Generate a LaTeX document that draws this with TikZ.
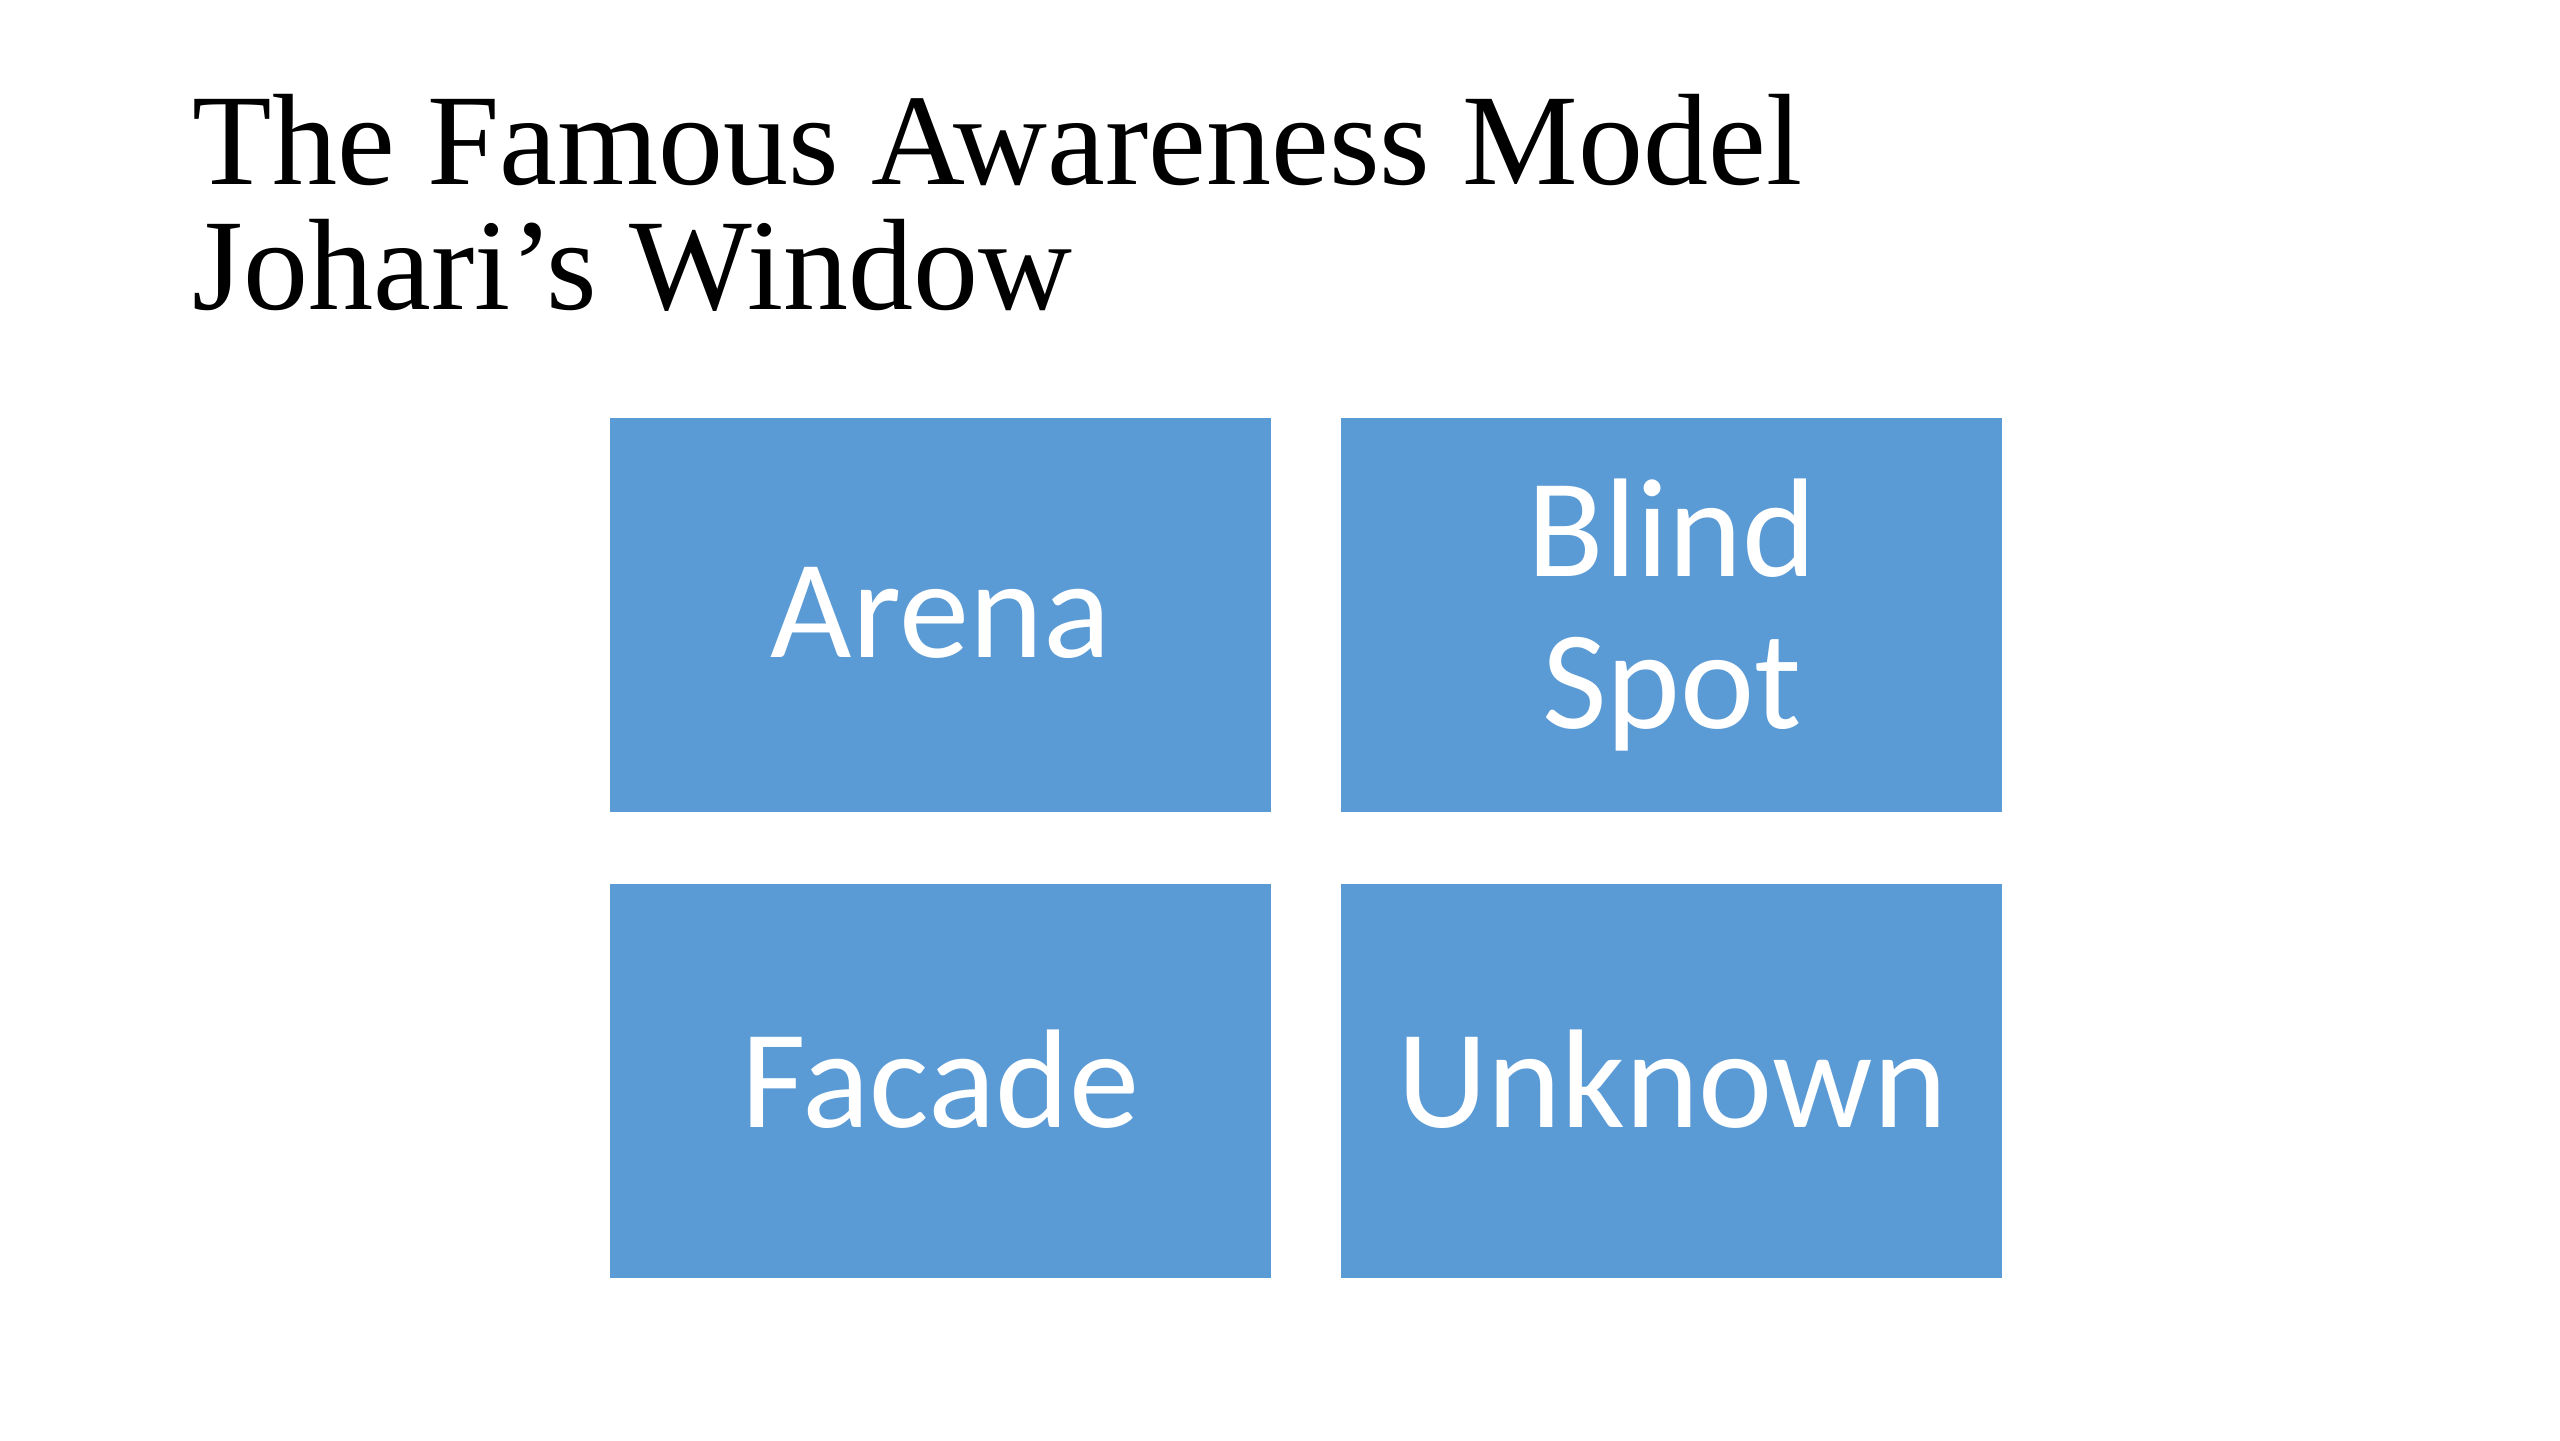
\documentclass[tikz,border=0pt]{standalone}
\usepackage{fontspec}
\setmainfont{Liberation Serif}
\newfontfamily\boxfont{Carlito}
\usepackage{tikz}
\usetikzlibrary{positioning}
\definecolor{paneblue}{RGB}{91, 155, 213}

\tikzset{
	pane/.style={fill=paneblue, draw=none, minimum width=6.61cm, minimum height=3.94cm,
		inner sep=0pt, text=white, align=center,
		font=\boxfont\fontsize{40}{43}\selectfont},
	titleline/.style={anchor=base west, inner sep=0pt,
		font=\fontsize{37}{40}\selectfont}
}

\begin{document}
\begin{tikzpicture}
	\useasboundingbox (0,0) rectangle (25.6,14.4);
	% heading
	\node[titleline] (title1) at (1.92,12.55) {The Famous Awareness Model};
	\node[titleline] (title2) at ([yshift=-1.25cm]title1.base west) {Johari’s Window};
	% the four panes
	\node[pane] (arena) at (9.405,8.25) {\raisebox{0.05cm}{Arena}};
	\node[pane, right=0.69cm of arena] (blind) {Blind\\Spot};
	\node[pane, below=0.71cm of arena] (facade) {\raisebox{0.06cm}{Facade}};
	\node[pane, below=0.71cm of blind] (unknown) {\raisebox{0.06cm}{Unknown}};
\end{tikzpicture}
\end{document}
